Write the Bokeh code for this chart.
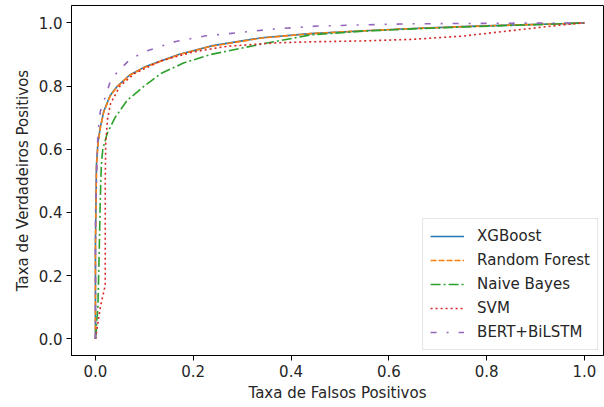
from bokeh.plotting import figure
from bokeh.models import FixedTicker, PrintfTickFormatter, Range1d, Legend, LegendItem
from bokeh.embed import file_html
from bokeh.resources import INLINE

# ROC curve data
xgb_fpr = [0, 0.0, 0.002, 0.005, 0.01, 0.017, 0.03, 0.045, 0.07, 0.1, 0.135, 0.17, 0.24, 0.34, 0.44, 0.55, 0.65, 0.75, 0.85, 0.95, 1.0]
xgb_tpr = [0, 0.3, 0.55, 0.62, 0.67, 0.72, 0.77, 0.80, 0.835, 0.86, 0.88, 0.90, 0.928, 0.953, 0.966, 0.975, 0.982, 0.988, 0.993, 0.997, 1.0]

rf_fpr = [0, 0.0, 0.002, 0.005, 0.01, 0.017, 0.03, 0.045, 0.07, 0.1, 0.135, 0.17, 0.24, 0.34, 0.44, 0.55, 0.65, 0.75, 0.85, 0.95, 1.0]
rf_tpr = [0, 0.28, 0.54, 0.615, 0.668, 0.718, 0.768, 0.799, 0.834, 0.859, 0.879, 0.899, 0.927, 0.952, 0.966, 0.975, 0.982, 0.988, 0.993, 0.997, 1.0]

nb_fpr = [0, 0.005, 0.008, 0.01, 0.012, 0.015, 0.024, 0.04, 0.065, 0.1, 0.134, 0.18, 0.236, 0.34, 0.44, 0.55, 0.65, 0.75, 0.85, 0.95, 1.0]
nb_tpr = [0, 0.1, 0.3, 0.45, 0.55, 0.6, 0.65, 0.70, 0.755, 0.80, 0.84, 0.873, 0.90, 0.933, 0.962, 0.974, 0.981, 0.987, 0.992, 0.997, 1.0]

svm_fpr = [0, 0.01, 0.02, 0.02, 0.021, 0.025, 0.031, 0.05, 0.08, 0.134, 0.2, 0.27, 0.373, 0.44, 0.55, 0.65, 0.75, 0.83, 0.9, 0.95, 1.0]
svm_tpr = [0, 0.1, 0.17, 0.5, 0.62, 0.70, 0.745, 0.80, 0.84, 0.88, 0.908, 0.926, 0.937, 0.940, 0.943, 0.948, 0.958, 0.972, 0.984, 0.993, 1.0]

bert_fpr = [0, 0.0, 0.005, 0.01, 0.02, 0.031, 0.048, 0.072, 0.106, 0.164, 0.226, 0.26, 0.36, 0.456, 0.558, 0.65, 0.75, 0.85, 1.0]
bert_tpr = [0, 0.4, 0.65, 0.72, 0.765, 0.818, 0.85, 0.886, 0.912, 0.941, 0.959, 0.964, 0.98, 0.99, 0.994, 0.997, 0.998, 0.999, 1.0]

labels = ["XGBoost", "Random Forest", "Naive Bayes", "SVM", "BERT+BiLSTM"]
colors = ["#1f77b4", "#ff7f0e", "#2ca02c", "#d62728", "#9467bd"]
dashes = ["solid", "6 2", "10 3 2 3", "2 3", "6 10 2 10"]

ticks = [0.0, 0.2, 0.4, 0.6, 0.8, 1.0]

p = figure(width=604, height=404, output_backend="svg", toolbar_location=None,
           x_range=Range1d(-0.049, 1.039), y_range=Range1d(-0.053, 1.055),
           min_border_left=71, min_border_right=1, min_border_top=5, min_border_bottom=49)

series = [(xgb_fpr, xgb_tpr), (rf_fpr, rf_tpr), (nb_fpr, nb_tpr), (svm_fpr, svm_tpr), (bert_fpr, bert_tpr)]
items = []
for (fx, ty), lab, col, dash in zip(series, labels, colors, dashes):
    r = p.line(fx, ty, line_color=col, line_width=1.6, line_dash=dash)
    items.append(LegendItem(label=lab, renderers=[r]))

legend = Legend(items=items, location="bottom_right")
legend.label_text_font = "DejaVu Sans"
legend.label_text_font_size = "15px"
legend.label_text_color = "#262626"
legend.glyph_width = 34
legend.glyph_height = 20
legend.label_height = 20
legend.spacing = 4
legend.padding = 7
legend.margin = 5
legend.label_standoff = 13
legend.border_line_color = "#cccccc"
legend.background_fill_alpha = 0.8
p.add_layout(legend)

p.grid.visible = False
p.outline_line_color = "black"
p.outline_line_width = 1
p.background_fill_color = "white"

for ax in (p.xaxis, p.yaxis):
    ax.ticker = FixedTicker(ticks=ticks)
    ax.formatter = PrintfTickFormatter(format="%.1f")
    ax.minor_tick_line_color = None
    ax.major_tick_in = 0
    ax.major_tick_out = 5
    ax.major_tick_line_color = "black"
    ax.axis_line_color = "black"
    ax.major_label_text_font = "DejaVu Sans"
    ax.major_label_text_font_size = "15px"
    ax.major_label_text_color = "#262626"
    ax.major_label_standoff = 4
    ax.axis_label_text_font = "DejaVu Sans"
    ax.axis_label_text_font_size = "15px"
    ax.axis_label_text_font_style = "normal"
    ax.axis_label_text_color = "#262626"
    ax.axis_label_standoff = 4

p.xaxis.axis_label = "Taxa de Falsos Positivos"
p.yaxis.axis_label = "Taxa de Verdadeiros Positivos"

open("out.html", "w").write(file_html(p, INLINE))
